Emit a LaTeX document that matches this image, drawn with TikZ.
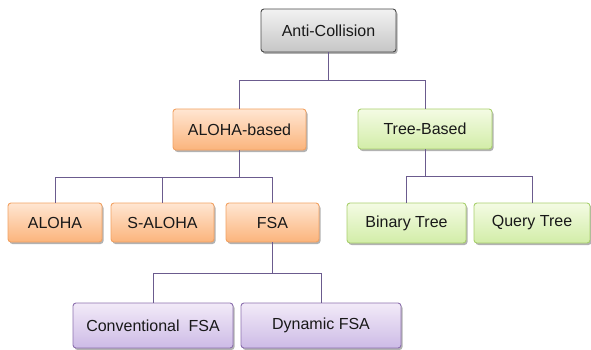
\documentclass[tikz,border=0pt]{standalone}
\usepackage{fontspec}
\setmainfont{Liberation Sans}
\usetikzlibrary{shadows}
\definecolor{grayTop}{HTML}{F2F2F2}
\definecolor{grayBot}{HTML}{C6C6C6}
\definecolor{grayLine}{HTML}{4A4A4A}
\definecolor{orTop}{HTML}{FFE6D2}
\definecolor{orBot}{HTML}{FBB47C}
\definecolor{orLine}{HTML}{F2A263}
\definecolor{grTop}{HTML}{F4FBE4}
\definecolor{grBot}{HTML}{D2EDA8}
\definecolor{grLine}{HTML}{A9D06E}
\definecolor{puTop}{HTML}{F2EAF8}
\definecolor{puBot}{HTML}{CDBBE6}
\definecolor{puLine}{HTML}{8C70AE}
\definecolor{wire}{HTML}{6B5B8E}
\tikzset{
  box/.style={rounded corners=3pt, line width=0.9pt, inner sep=0pt,
    font=\fontsize{16}{18}\selectfont, text=black!90,
    drop shadow={shadow xshift=1.5pt, shadow yshift=-2pt, opacity=0.3, fill=black}},
  rootbox/.style={box, draw=grayLine, top color=grayTop, bottom color=grayBot},
  alohabox/.style={box, draw=orLine, top color=orTop, bottom color=orBot},
  treebox/.style={box, draw=grLine, top color=grTop, bottom color=grBot},
  fsabox/.style={box, draw=puLine, top color=puTop, bottom color=puBot},
  wirestyle/.style={draw=wire, line width=0.9pt}
}
\begin{document}
\begin{tikzpicture}[x=1pt, y=-1pt]
\useasboundingbox (0,0) rectangle (591,350);

% root
\node[rootbox, minimum width=135pt, minimum height=43pt] (anti) at (328.5,30.5) {Anti-Collision};

% second level
\node[alohabox, minimum width=133pt, minimum height=41pt] (alohab) at (239.5,129.5) {ALOHA-based};
\node[treebox, minimum width=134pt, minimum height=40pt] (tree) at (425,129) {Tree-Based};

% third level
\node[alohabox, minimum width=94pt, minimum height=39pt] (aloha) at (55,222.5) {ALOHA};
\node[alohabox, minimum width=103pt, minimum height=39pt] (saloha) at (162.5,222.5) {S-ALOHA};
\node[alohabox, minimum width=93pt, minimum height=39pt] (fsa) at (272.5,222.5) {FSA};
\node[treebox, minimum width=119pt, minimum height=40pt] (binary) at (406.5,223) {Binary Tree};
\node[treebox, minimum width=116pt, minimum height=40pt] (query) at (532,223) {Query Tree};

% fourth level
\node[fsabox, minimum width=160pt, minimum height=45pt] (conv) at (153,325.5) {Conventional\ \ FSA};
\node[fsabox, minimum width=160pt, minimum height=45pt] (dyn) at (321,325.5) {Dynamic FSA};

% heights of the horizontal bus lines
\coordinate (busA) at (0,80);
\coordinate (busB) at (0,177);
\coordinate (busC) at (0,176);
\coordinate (busD) at (0,273);

% connectors
\path[wirestyle] (anti.south) -- (anti.south |- busA) -| (alohab.north);
\path[wirestyle] (anti.south |- busA) -| (tree.north);

\path[wirestyle] (alohab.south) -- (alohab.south |- busB) -| (aloha.north);
\path[wirestyle] (alohab.south |- busB) -| (saloha.north);
\path[wirestyle] (alohab.south |- busB) -| (fsa.north);

\path[wirestyle] (tree.south) -- (tree.south |- busC) -| (binary.north);
\path[wirestyle] (tree.south |- busC) -| (query.north);

\path[wirestyle] (fsa.south) -- (fsa.south |- busD) -| (conv.north);
\path[wirestyle] (fsa.south |- busD) -| (dyn.north);
\end{tikzpicture}
\end{document}
